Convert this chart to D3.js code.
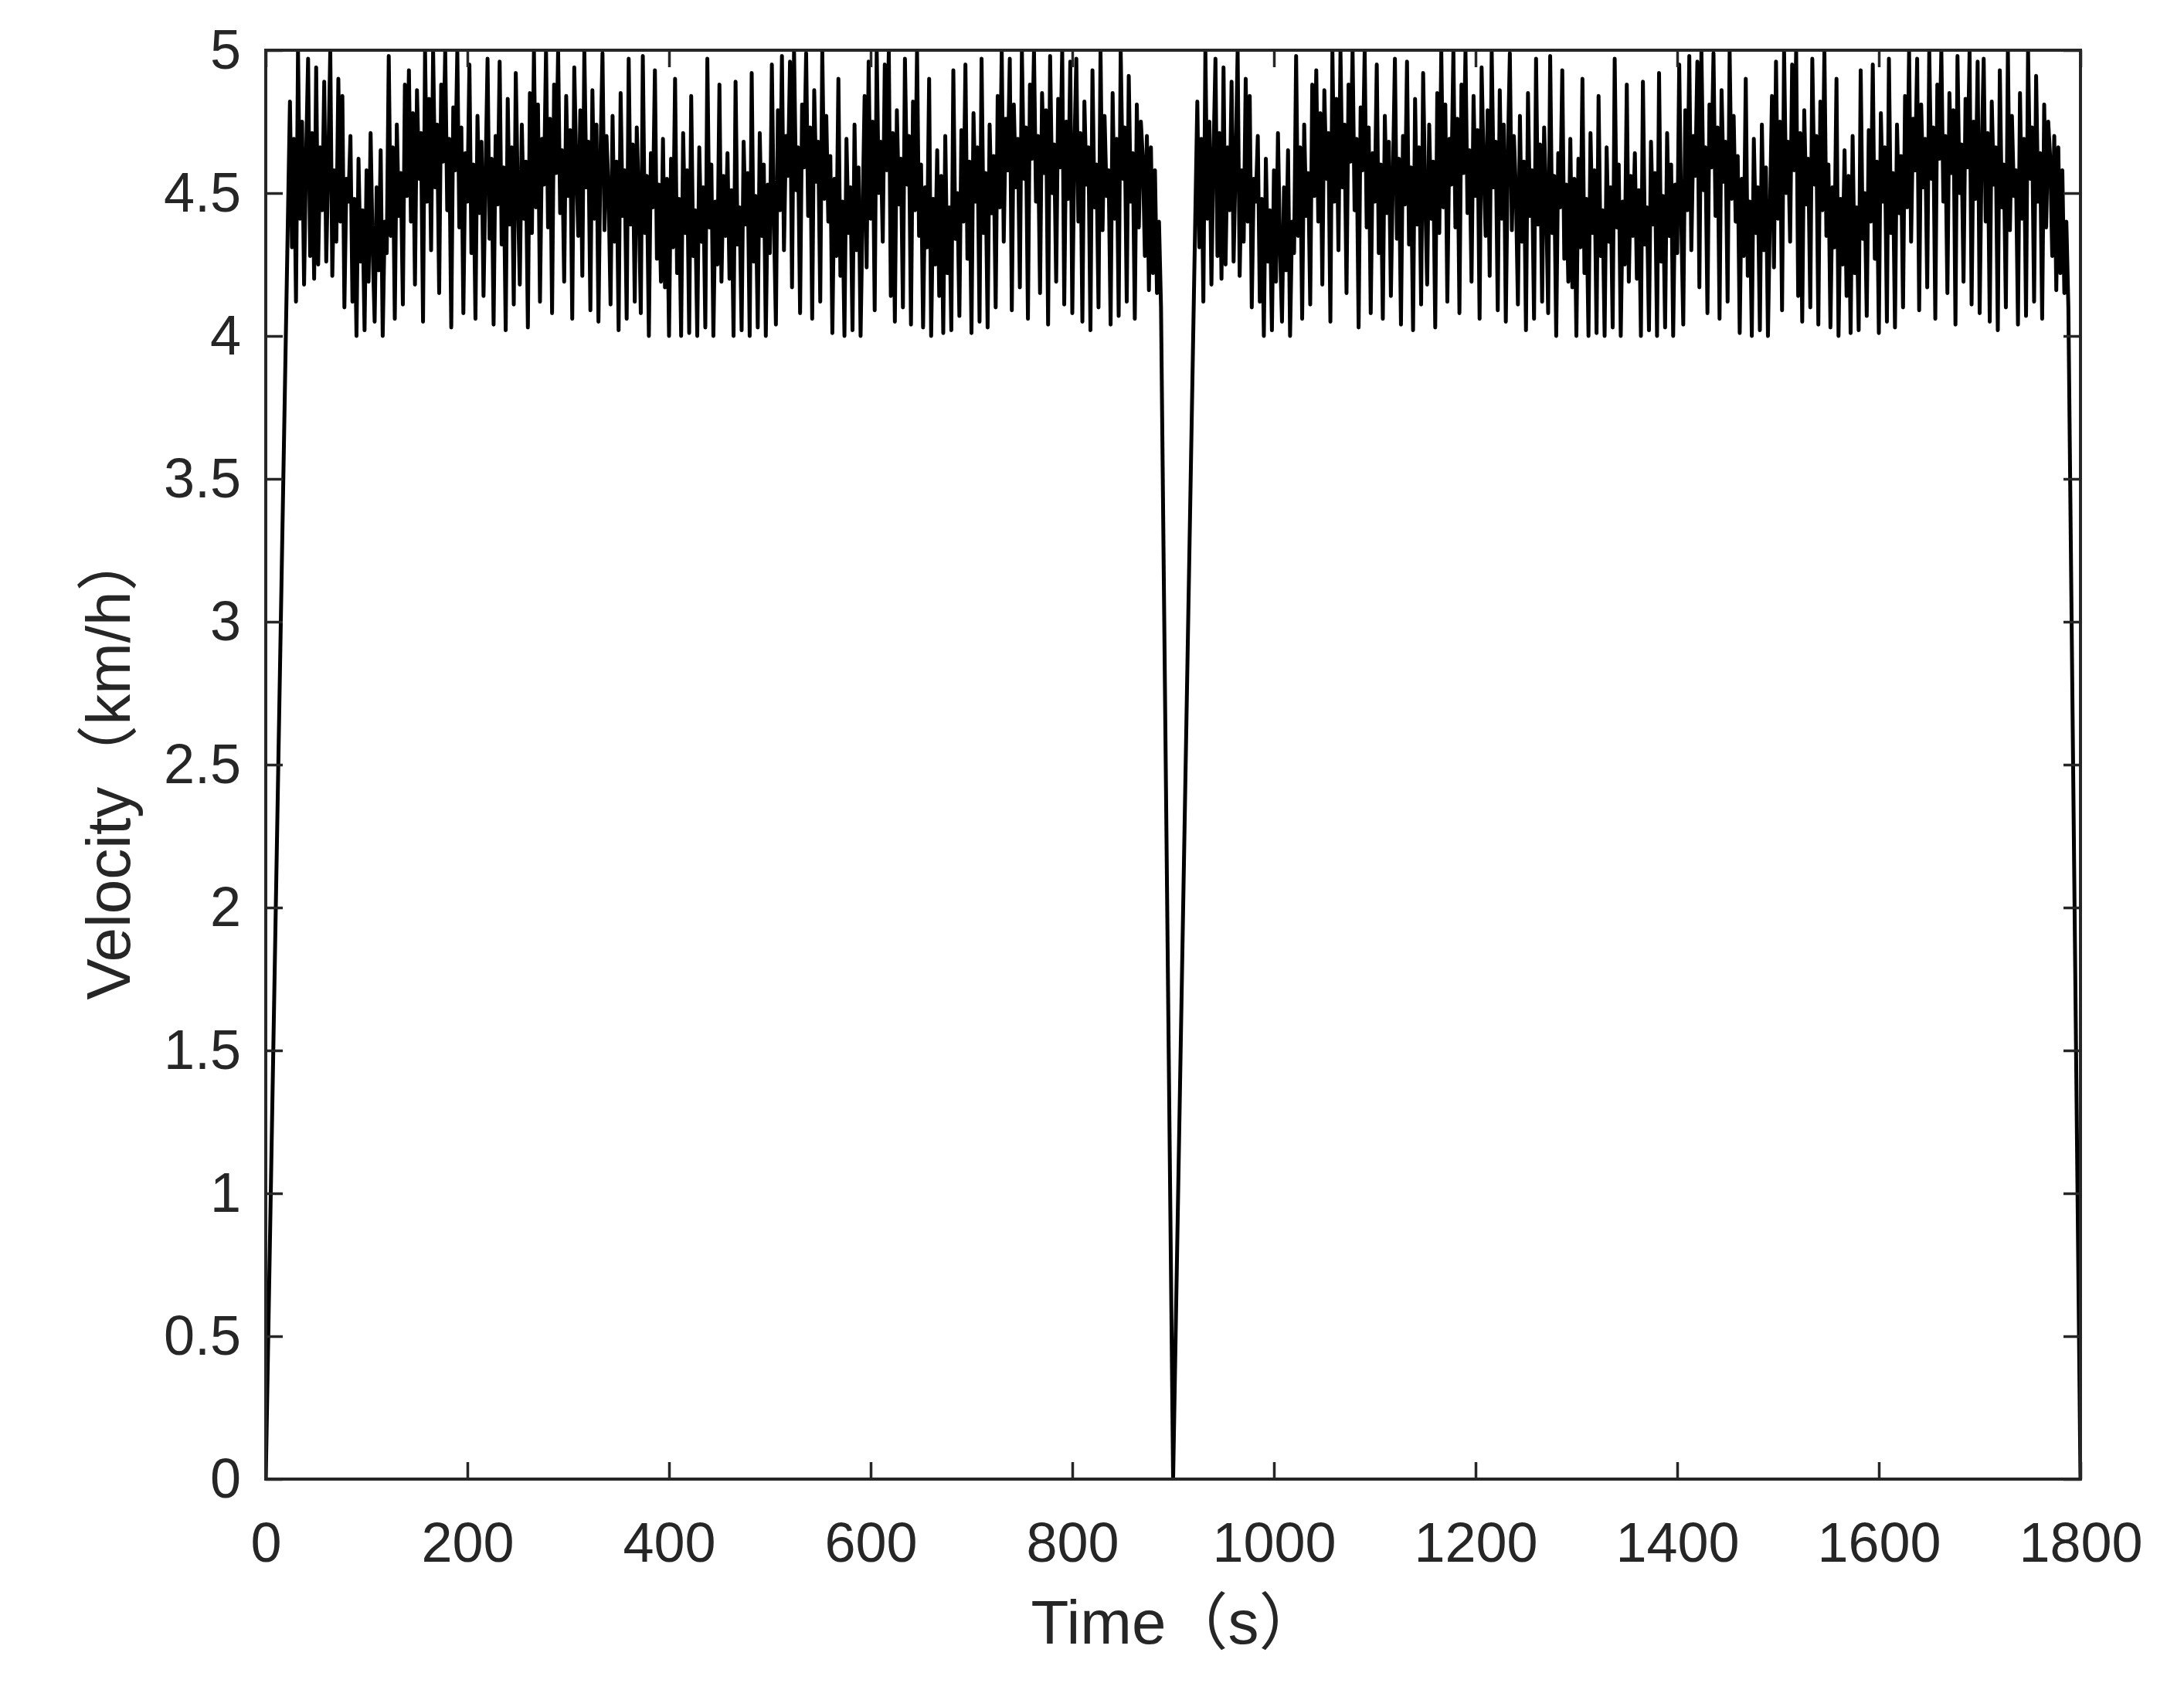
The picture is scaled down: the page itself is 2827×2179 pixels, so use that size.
<!DOCTYPE html>
<html>
<head>
<meta charset="utf-8">
<script src="https://cdn.jsdelivr.net/npm/d3@7"></script>
<style>
  html, body { margin: 0; padding: 0; background: #ffffff; }
  svg { display: block; }
  text { font-family: "Liberation Sans", Arial, "Noto Sans CJK SC", sans-serif; fill: #262626; }
</style>
</head>
<body>
<svg id="chart" width="2827" height="2179"></svg>
<script>
// ---------------- DATA ----------------
const xTickValues = [0, 200, 400, 600, 800, 1000, 1200, 1400, 1600, 1800];
const xTickLabels = ["0", "200", "400", "600", "800", "1000", "1200", "1400", "1600", "1800"];
const yTickValues = [0, 0.5, 1, 1.5, 2, 2.5, 3, 3.5, 4, 4.5, 5];
const yTickLabels = ["0", "0.5", "1", "1.5", "2", "2.5", "3", "3.5", "4", "4.5", "5"];
const xLabelParts = ["Time", "\uFF08", "s", "\uFF09"];
const yLabelParts = ["Velocity", "\uFF08", "km/h", "\uFF09"];

// The record consists of two identical 900 s runs: each starts and ends at standstill (0 km/h)
const runDuration = 900;            // s
const runCount = 2;
const runStartValue = 0;            // km/h at t = 0 of each run
const finalTime = 1800, finalValue = 0;
const sampleStart = 24;             // first sample of the walking phase inside a run (s)
const sampleStep = 2;               // s between samples
const runValues = [
  4.82,4.31,4.69,4.12,5.00,4.41,4.75,4.18,4.63,4.97,4.28,4.71,4.20,4.94,4.25,4.66,4.44,
  4.89,4.26,4.61,5.00,4.21,4.58,4.33,4.90,4.40,4.84,4.10,4.55,4.47,
  4.70,4.12,4.48,4.00,4.62,4.26,4.44,4.02,4.58,4.19,4.71,4.31,4.05,4.52,4.23,4.65,4.00,4.40,4.29,
  4.98,4.35,4.66,4.06,4.74,4.42,4.57,4.11,4.88,4.49,
  4.93,4.40,4.78,4.18,4.86,4.55,4.71,4.05,5.00,4.47,4.83,4.30,5.00,4.52,4.74,4.15,4.88,4.61,5.00,4.44,4.69,4.03,4.80,4.58,5.00,
  4.38,4.73,4.08,4.64,4.47,4.95,4.29,4.60,4.06,4.77,4.43,4.68,4.14,4.56,4.97,4.34,4.62,4.04,
  4.70,4.46,4.96,4.32,4.59,4.02,4.83,4.39,4.66,4.11,4.92,4.50,4.18,4.74,4.41,4.61,4.03,4.85,4.36,
  5.00,4.45,4.81,4.12,4.69,4.53,5.00,4.38,4.76,4.08,4.88,4.57,5.00,4.43,4.65,4.19,4.84,4.49,4.72,4.06,
  4.94,4.60,4.35,4.79,4.21,5.00,4.52,4.68,4.09,4.86,4.41,4.74,4.05,4.63,4.99,4.37,4.70,4.51,4.11,
  4.77,4.33,4.61,4.02,4.85,4.42,4.58,4.06,4.97,4.39,4.67,4.12,4.73,4.48,4.08,4.98,4.36,4.56,4.00,4.64,4.45,4.93,4.27,4.53,4.19,
  4.69,4.17,4.55,4.00,4.62,4.31,4.90,4.22,4.48,4.00,4.71,4.36,4.58,4.01,4.84,4.28,4.44,4.00,4.66,4.33,
  4.52,4.03,4.97,4.38,4.60,4.00,4.47,4.25,4.88,4.19,4.56,4.35,
  4.64,4.20,4.51,4.00,4.89,4.32,4.45,4.02,4.68,4.39,4.57,4.00,4.92,4.26,4.49,4.03,4.71,4.35,4.60,4.00,4.53,4.29,4.95,4.41,4.04,
  4.79,4.44,4.98,4.30,4.70,4.56,4.96,4.17,5.00,4.51,4.66,4.08,4.81,4.59,4.99,4.42,4.73,4.06,4.86,4.54,4.68,4.12,5.00,4.48,4.77,4.40,
  4.63,4.01,4.55,4.28,4.90,4.21,4.47,4.00,4.69,4.36,4.52,4.02,4.74,4.30,4.59,4.00,4.43,4.84,4.24,
  4.96,4.41,4.75,4.09,5.00,4.50,4.68,4.33,4.95,4.58,5.00,4.14,4.71,4.05,4.79,4.46,4.62,4.10,4.97,4.53,4.70,4.04,4.82,4.44,5.00,4.35,
  4.60,4.03,4.52,4.31,4.90,4.00,4.48,4.25,4.65,4.14,4.56,4.01,4.70,4.22,4.45,4.02,4.93,4.34,4.50,
  4.07,4.72,4.40,4.95,4.27,4.61,4.01,4.78,4.47,4.66,4.05,4.97,4.36,4.57,4.03,4.74,4.43,4.63,4.10,
  4.84,4.45,5.00,4.33,4.76,4.58,4.97,4.09,4.81,4.52,4.69,4.17,5.00,4.55,4.73,4.06,4.88,4.62,5.00,4.47,
  4.70,4.15,4.85,4.57,4.79,4.04,4.98,4.50,4.67,4.19,4.83,4.59,5.00,4.11,4.75,4.48,4.96,4.08,4.64,
  4.97,4.40,4.71,4.05,4.82,4.53,4.66,4.02,4.93,4.45,4.60,4.10,5.00,4.37,4.77,4.49,4.58,4.04,4.85,4.41,
  4.69,4.07,5.00,4.55,4.73,4.12,4.91,4.47,4.64,4.06,4.81,4.38,
  4.75,4.62,4.28,4.70,4.16,4.66,4.22,4.58,4.15,4.40,4.10
];

// build the (time, value) table from the arrays above
const series = [];
for (let r = 0; r < runCount; r++) {
  const offset = r * runDuration;
  series.push({ t: offset, v: runStartValue });
  runValues.forEach((v, i) => series.push({ t: offset + sampleStart + i * sampleStep, v: v }));
}
series.push({ t: finalTime, v: finalValue });

// ---------------- LAYOUT ----------------
const svg = d3.select("#chart");
const plot = { left: 344, right: 2693, top: 65, bottom: 1915 };
const axisColor = "#262626";
const fontSize = 72;
const labelSize = 80;
const tickLen = 22;
const cjkFont = '"Noto Sans CJK SC", "Noto Sans CJK JP", sans-serif';
const latinFont = '"Liberation Sans", Arial, sans-serif';

const x = d3.scaleLinear().domain([0, 1800]).range([plot.left, plot.right]);
const y = d3.scaleLinear().domain([0, 5]).range([plot.bottom, plot.top]);

svg.append("rect").attr("width", 2827).attr("height", 2179).attr("fill", "#ffffff");

svg.append("defs").append("clipPath").attr("id", "plotClip")
  .append("rect")
  .attr("x", plot.left).attr("y", plot.top)
  .attr("width", plot.right - plot.left).attr("height", plot.bottom - plot.top);

// data line
const line = d3.line().x(d => x(d.t)).y(d => y(d.v));
svg.append("path")
  .datum(series)
  .attr("clip-path", "url(#plotClip)")
  .attr("fill", "none")
  .attr("stroke", "#000000")
  .attr("stroke-width", 5)
  .attr("stroke-linejoin", "round")
  .attr("d", line);

// axes (ticks inward, mirrored on top/right)
function styleAxis(g, showLabels) {
  g.select(".domain").remove();
  g.selectAll(".tick line").attr("stroke", axisColor).attr("stroke-width", 3.5);
  g.selectAll(".tick text")
    .attr("font-size", fontSize)
    .attr("fill", axisColor)
    .style("font-family", latinFont);
  if (!showLabels) g.selectAll(".tick text").remove();
}

const xAxis = d3.axisBottom(x).tickValues(xTickValues)
  .tickFormat((d, i) => xTickLabels[i]).tickSize(-tickLen).tickPadding(56);
svg.append("g").attr("transform", `translate(0,${plot.bottom})`).call(xAxis).call(g => styleAxis(g, true));

const xAxisTop = d3.axisTop(x).tickValues(xTickValues).tickFormat("").tickSize(-tickLen);
svg.append("g").attr("transform", `translate(0,${plot.top})`).call(xAxisTop).call(g => styleAxis(g, false));

const yAxis = d3.axisLeft(y).tickValues(yTickValues)
  .tickFormat((d, i) => yTickLabels[i]).tickSize(-tickLen).tickPadding(32);
svg.append("g").attr("transform", `translate(${plot.left},0)`).call(yAxis).call(g => styleAxis(g, true));

const yAxisRight = d3.axisRight(y).tickValues(yTickValues).tickFormat("").tickSize(-tickLen);
svg.append("g").attr("transform", `translate(${plot.right},0)`).call(yAxisRight).call(g => styleAxis(g, false));

// box
svg.append("rect")
  .attr("x", plot.left).attr("y", plot.top)
  .attr("width", plot.right - plot.left).attr("height", plot.bottom - plot.top)
  .attr("fill", "none").attr("stroke", axisColor).attr("stroke-width", 4);

// axis titles (full-width parentheses set in a CJK font)
function addParts(textSel, parts) {
  parts.forEach(p => {
    const isCjk = /[\uFF08\uFF09]/.test(p);
    textSel.append("tspan")
      .style("font-family", isCjk ? cjkFont : latinFont)
      .text(p);
  });
}

const xTitle = svg.append("text")
  .attr("x", 1522).attr("y", 2128)
  .attr("text-anchor", "middle")
  .attr("font-size", labelSize);
addParts(xTitle, xLabelParts);

const yTitle = svg.append("text")
  .attr("transform", "translate(168,990) rotate(-90)")
  .attr("text-anchor", "middle")
  .attr("font-size", labelSize);
addParts(yTitle, yLabelParts);
</script>
</body>
</html>
